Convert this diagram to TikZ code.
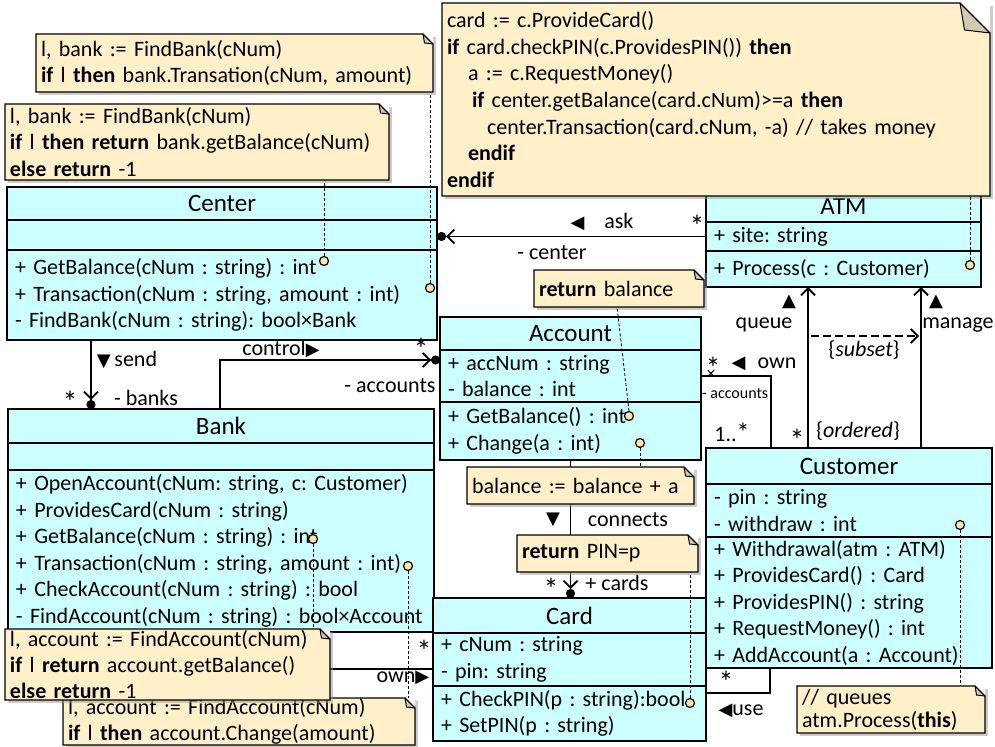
\documentclass[tikz,border=0pt]{standalone}
\usepackage{fontspec}
\setmainfont{Carlito}
\newfontfamily\symb{DejaVu Sans}
\usepackage{tikz}
\usepackage{xcolor}
\usetikzlibrary{positioning,arrows.meta,shadows}
\frenchspacing
\definecolor{clsfill}{HTML}{CCFFFF}
\definecolor{notefill}{HTML}{FFF0C9}
\definecolor{foldfill}{HTML}{D2C9B0}
\definecolor{dotfill}{HTML}{FFE3AE}
\newcommand{\memfont}{\fontsize{11}{13.25}\selectfont}
\newcommand{\headfont}{\fontsize{12.5}{15}\selectfont}
\newcommand{\mult}{{\fontsize{15}{15}\selectfont *}}
\newcommand{\dirright}{{\symb\fontsize{9}{9}\selectfont ▶}}
\newcommand{\dirleft}{{\symb\fontsize{9}{9}\selectfont ◀}}
\newcommand{\dirup}{{\symb\fontsize{9}{9}\selectfont ▲}}
\newcommand{\dirdown}{{\symb\fontsize{9}{9}\selectfont ▼}}
\newcommand{\fold}[2][5pt]{%
  \fill[white] ([xshift=-#1]#2.north east) -- (#2.north east) -- ([yshift=-#1]#2.north east) -- cycle;
  \filldraw[fill=foldfill, line width=0.5pt] ([xshift=-#1]#2.north east) -- ([xshift=-0.85*#1, yshift=-0.9*#1]#2.north east) -- ([yshift=-#1]#2.north east);
  \draw[line width=0.6pt] (#2.north west) -- ([xshift=-#1]#2.north east) -- ([yshift=-#1]#2.north east) -- (#2.south east) -- (#2.south west) -- cycle;}
\tikzstyle{clshead} = [draw, line width=1pt, fill=clsfill, inner sep=0pt, outer sep=0pt, font=\headfont, anchor=north west]
\tikzstyle{clsbody} = [draw, line width=1pt, fill=clsfill, inner xsep=4pt, inner ysep=0pt, outer sep=0pt, align=left, font=\memfont]
\tikzstyle{note} = [fill=notefill, drop shadow={shadow xshift=1.5pt, shadow yshift=-1.5pt, fill=black!40, opacity=0.5}, inner xsep=2.5pt, inner ysep=0pt, outer sep=0pt, align=left, anchor=north west, font=\memfont]
\tikzstyle{notedot} = [circle, draw, line width=0.6pt, fill=dotfill, inner sep=0pt, minimum size=4.5pt]
\tikzstyle{notelink} = [line width=0.4pt, dash pattern=on 1.5pt off 1pt]
\tikzstyle{assoc} = [line width=0.9pt]
\tikzstyle{owned} = [-{Straight Barb[length=3.5pt,width=7pt] Circle[length=4.5pt]}]
\tikzstyle{navig} = [-{Straight Barb[length=3.5pt,width=7pt]}]
\tikzstyle{lbl} = [inner sep=0pt, font=\memfont]

\begin{document}
\begin{tikzpicture}[x=0.5pt, y=-0.5pt]
			\fill[white] (0,0) rectangle (995,747);
			\useasboundingbox (0,0) rectangle (995,747);
			% classes
			\node[clshead, minimum width=215pt, minimum height=16.5pt] (center) at (7,187) {Center};
			\node[clsbody, text width=207pt, minimum height=15pt, below=0pt of center] (center attr) {};
			\node[clsbody, text width=207pt, minimum height=45pt, below=0pt of center attr] (center ops) {+ GetBalance(cNum : string) : int\\+ Transaction(cNum : string, amount : int)\\- FindBank(cNum : string): bool×Bank};
			\node[clshead, minimum width=137.5pt, minimum height=16pt] (atm) at (706,190) {ATM};
			\node[clsbody, text width=129.5pt, minimum height=14.5pt, below=0pt of atm] (atm attr) {+ site: string};
			\node[clsbody, text width=129.5pt, minimum height=18pt, below=0pt of atm attr] (atm ops) {+ Process(c : Customer)};
			\node[clshead, minimum width=130.5pt, minimum height=16.5pt] (account) at (440,317) {Account};
			\node[clsbody, text width=122.5pt, minimum height=26pt, below=0pt of account] (account attr) {+ accNum : string\\- balance : int};
			\node[clsbody, text width=122.5pt, minimum height=29pt, below=0pt of account attr] (account ops) {+ GetBalance() : int\\+ Change(a : int)};
			\node[clshead, minimum width=213pt, minimum height=17pt] (bank) at (8,409) {Bank};
			\node[clsbody, text width=205pt, minimum height=13.5pt, below=0pt of bank] (bank attr) {};
			\node[clsbody, text width=205pt, minimum height=81pt, below=0pt of bank attr] (bank ops) {+ OpenAccount(cNum: string, c: Customer)\\+ ProvidesCard(cNum : string)\\+ GetBalance(cNum : string) : int\\+ Transaction(cNum : string, amount : int)\\+ CheckAccount(cNum : string) : bool\\- FindAccount(cNum : string) : bool×Account};
			\node[clshead, minimum width=136.5pt, minimum height=17.5pt] (card) at (433,598) {Card};
			\node[clsbody, text width=128.5pt, minimum height=26.5pt, below=0pt of card] (card attr) {+ cNum : string\\- pin: string};
			\node[clsbody, text width=128.5pt, minimum height=27.5pt, below=0pt of card attr] (card ops) {+ CheckPIN(p : string):bool\\+ SetPIN(p : string)};
			\node[clshead, minimum width=143pt, minimum height=18pt] (customer) at (706,448) {Customer};
			\node[clsbody, text width=135pt, minimum height=26.5pt, below=0pt of customer] (customer attr) {- pin : string\\- withdraw : int};
			\node[clsbody, text width=135pt, minimum height=65.5pt, below=0pt of customer attr] (customer ops) {+ Withdrawal(atm : ATM)\\+ ProvidesCard() : Card\\+ ProvidesPIN() : string\\+ RequestMoney() : int\\+ AddAccount(a : Account)};
			% associations
			\draw[assoc, owned] (atm attr.west) -- (atm attr.west -| center attr.east);
			\draw[assoc, owned] ([xshift=42pt]center ops.south west) -- ([xshift=41.5pt]bank.north west);
			\draw[assoc, owned] ([xshift=106pt]bank.north west) |- ([yshift=-5pt]account attr.north west);
			\draw[assoc, owned] (account ops.south) -- (account ops.south |- card.north);
			\draw[assoc] ([xshift=150pt]bank ops.south west) |- ([yshift=-18pt]card attr.north west);
			\draw[assoc, navig] ([xshift=51pt]customer.north west) -- ([xshift=51pt]customer.north west |- atm ops.south);
			\draw[assoc, navig] ([xshift=107.5pt]customer.north west) -- ([xshift=107.5pt]customer.north west |- atm ops.south);
			\coordinate (subset start) at (811,336);
			\coordinate (subset end) at (919,336);
			\draw[assoc, navig, dash pattern=on 4pt off 2pt] (subset start) -- (subset end);
			\draw[assoc] ([xshift=32.5pt]customer.north west) |- (account attr.east);
			\node[inner sep=0pt, font=\fontsize{9}{9}\selectfont] (own cross) at (711,375) {×};
			\draw[assoc] ([xshift=32pt]customer ops.south west) |- ([yshift=-3.5pt]card ops.north east);
			% labels
			\node[lbl] (ask mult) at (697,226) {\mult};
			\node[lbl] (ask lbl) at (602,222) {\dirleft\hspace{10pt}ask};
			\node[lbl] (center role) at (552,253) {- center};
			\node[lbl] (send lbl) at (127,360) {\dirdown\,send};
			\node[lbl] (banks mult) at (70,402) {\mult};
			\node[lbl] (banks role) at (146,398) {- banks};
			\node[lbl] (control lbl) at (281,349) {control\dirright};
			\node[lbl] (accounts mult) at (421,349) {\mult};
			\node[lbl] (accounts role) at (390,386) {- accounts};
			\node[lbl] (connects dir) at (553,520) {\dirdown};
			\node[lbl] (connects lbl) at (628,520) {connects};
			\node[lbl] (cards mult) at (551,589) {\mult};
			\node[lbl] (cards role) at (617,583) {+ cards};
			\node[lbl] (card mult) at (424,651) {\mult};
			\node[lbl] (own lbl) at (403,678) {own\dirright};
			\node[lbl] (queue dir) at (789,302) {\dirup};
			\node[lbl] (queue lbl) at (764,325) {queue};
			\node[lbl] (manage dir) at (936,302) {\dirup};
			\node[lbl] (manage lbl) at (958,325) {manage};
			\node[lbl] (subset lbl) at (864,350) {\{\textit{subset}\}};
			\node[lbl] (queue mult) at (797,440) {\mult};
			\node[lbl] (ordered lbl) at (858,431) {\{\textit{ordered}\}};
			\node[lbl] (acc mult) at (713,368) {\mult};
			\node[lbl] (acc own lbl) at (764,364) {\dirleft\hspace{6pt}own};
			\node[lbl, font=\fontsize{8}{9}\selectfont] (acc own role) at (735,394) {- accounts};
			\node[lbl] (acc range) at (732,432) {1..{\fontsize{13}{13}\selectfont *}};
			\node[lbl] (use mult) at (726,682) {\mult};
			\node[lbl] (use lbl) at (741,711) {\dirleft use};
			% note anchors
			\node[notedot] (center bal dot) at (324,261) {};
			\node[notedot] (center trans dot) at (430,288) {};
			\node[notedot] (atm dot) at (970,265) {};
			\node[notedot] (acc bal dot) at (629,416) {};
			\node[notedot] (acc change dot) at (640,443) {};
			\node[notedot] (bank bal dot) at (313,539) {};
			\node[notedot] (bank trans dot) at (408,566) {};
			\node[notedot] (card dot) at (690,703) {};
			\node[notedot] (cust dot) at (960,525) {};
			% notes
			\node[note, text width=193.5pt, minimum height=29pt] (ctr trans note) at (36,34) {l, bank := FindBank(cNum)\\\textbf{if} l \textbf{then} bank.Transation(cNum, amount)};
			\fold{ctr trans note}
			\node[note, text width=187pt, minimum height=38pt] (ctr bal note) at (5,104) {l, bank := FindBank(cNum)\\\textbf{if} l \textbf{then return} bank.getBalance(cNum)\\\textbf{else return} -1};
			\fold{ctr bal note}
			\node[note, text width=269pt, minimum height=96.5pt, font=\fontsize{11}{13.35}\selectfont] (atm note) at (442,3) {card := c.ProvideCard()\\\textbf{if} card.checkPIN(c.ProvidesPIN()) \textbf{then}\\\hspace*{10.5pt}a := c.RequestMoney()\\\hspace*{12.5pt}\textbf{if} center.getBalance(card.cNum)>=a \textbf{then}\\\hspace*{20pt}center.Transaction(card.cNum, -a) // takes money\\\hspace*{10.5pt}\textbf{endif}\\\textbf{endif}};
			\fold[15pt]{atm note}
			\node[note, text width=80pt, minimum height=18.5pt] (acc bal note) at (534,270) {\textbf{return} balance};
			\fold{acc bal note}
			\node[note, text width=108.5pt, minimum height=18.5pt] (acc change note) at (467,467) {balance := balance + a};
			\fold{acc change note}
			\node[note, text width=85.5pt, minimum height=18.5pt] (card note) at (517,535) {\textbf{return} PIN=p};
			\fold{card note}
			\node[note, text width=89pt, minimum height=23.5pt, font=\fontsize{11}{11.5}\selectfont] (cust note) at (797,686) {// queues\\atm.Process(\textbf{this})};
			\fold{cust note}
			\node[note, text width=171pt, minimum height=23.5pt, font=\fontsize{11}{13}\selectfont] (bank trans note) at (63,698) {l, account := FindAccount(cNum)\\\textbf{if} l \textbf{then} account.Change(amount)};
			\fold{bank trans note}
			\node[note, text width=157.5pt, minimum height=35.5pt, font=\fontsize{11}{13}\selectfont] (bank bal note) at (5,629) {l, account := FindAccount(cNum)\\\textbf{if} l \textbf{return} account.getBalance()\\\textbf{else return} -1};
			\fold{bank bal note}
			% note links
			\draw[notelink] (center trans dot.north) -- (center trans dot.north |- ctr trans note.south);
			\draw[notelink] (center bal dot.north) -- (center bal dot.north |- ctr bal note.south);
			\draw[notelink] (atm dot.north) -- (atm dot.north |- atm note.south);
			\draw[notelink] (acc bal dot.north) -- ([xshift=41.5pt]acc bal note.south west);
			\draw[notelink] (acc change dot.south) -- (acc change dot.south |- acc change note.north);
			\draw[notelink] (card dot.north) -- (card dot.north |- card note.south);
			\draw[notelink] (cust dot.south) -- (cust dot.south |- cust note.north);
			\draw[notelink] (bank bal dot.south) -- (bank bal dot.south |- bank bal note.north);
			\draw[notelink] (bank trans dot.south) -- (bank trans dot.south |- bank trans note.north);
\end{tikzpicture}
\end{document}
